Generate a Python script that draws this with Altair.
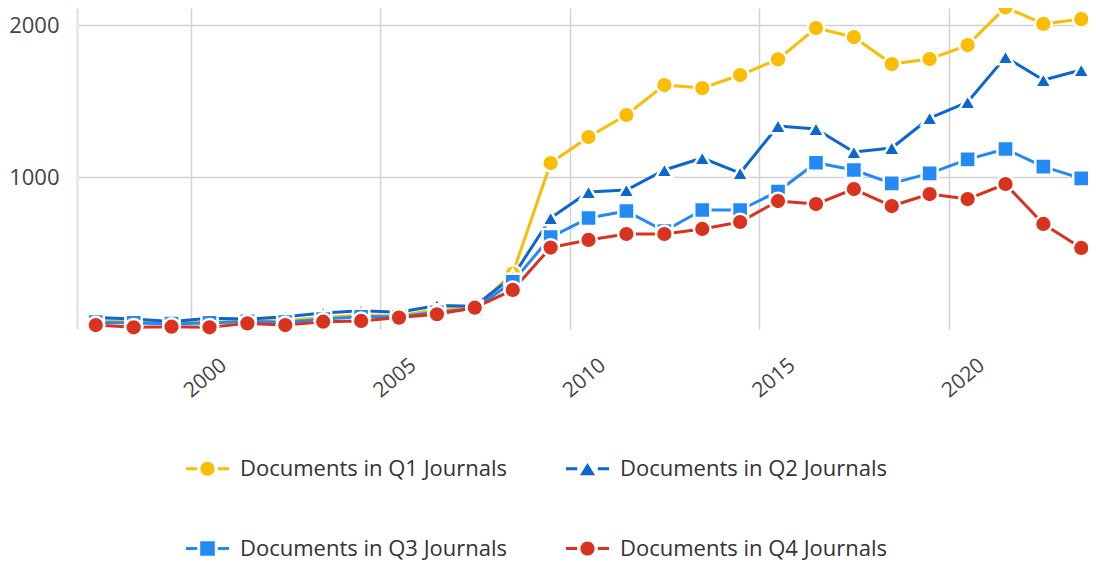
import altair as alt
import pandas as pd

years = list(range(1997, 2024))
q1 = [55, 50, 45, 45, 55, 55, 75, 90, 85, 130, 140, 365, 1092, 1263, 1408, 1605, 1585, 1671,
      1774, 1980, 1921, 1743, 1776, 1868, 2116, 2007, 2039]
q2 = [75, 65, 50, 70, 65, 80, 105, 120, 110, 155, 150, 345, 730, 901, 914, 1046, 1125, 1026,
      1336, 1316, 1164, 1191, 1388, 1493, 1789, 1638, 1704]
q3 = [45, 40, 35, 40, 50, 45, 65, 80, 80, 110, 135, 310, 605, 730, 776, 645, 783, 783,
      905, 1094, 1046, 958, 1024, 1116, 1184, 1068, 991]
q4 = [26, 11, 15, 11, 37, 26, 48, 53, 75, 97, 140, 257, 536, 586, 625, 625, 658, 704,
      842, 822, 921, 809, 888, 855, 954, 691, 533]

series_names = ["Documents in Q1 Journals", "Documents in Q2 Journals",
                "Documents in Q3 Journals", "Documents in Q4 Journals"]
colors = ["#FBBC04", "#0B66CE", "#2389F5", "#D9321F"]
marker_shapes = ["circle", "triangle-up", "square", "circle"]
marker_sizes = [280, 280, 260, 280]

dash = "M-1,-0.07H-0.48V0.07H-1Z M0.48,-0.07H1V0.07H0.48Z "
legend_paths = [
    dash + "M-0.33,0A0.33,0.33 0 1,0 0.33,0A0.33,0.33 0 1,0 -0.33,0Z",
    dash + "M0,-0.27L0.35,0.3L-0.35,0.3Z",
    dash + "M-0.34,-0.34H0.34V0.34H-0.34Z",
    dash + "M-0.33,0A0.33,0.33 0 1,0 0.33,0A0.33,0.33 0 1,0 -0.33,0Z",
]
x_ticks = [2000, 2005, 2010, 2015, 2020]
y_ticks = [1000, 2000]

rows = []
for name, vals in zip(series_names, [q1, q2, q3, q4]):
    for yr, v in zip(years, vals):
        rows.append({"year": yr, "series": name, "value": v})
df = pd.DataFrame(rows)

FONT = "Open Sans"

x_enc = alt.X(
    "date:T",
    title=None,
    scale=alt.Scale(domain=[alt.DateTime(year=1997, month=1, date=1),
                            alt.DateTime(year=2023, month=9, date=4)]),
    axis=alt.Axis(values=[alt.DateTime(year=y, month=1, date=1) for y in x_ticks],
                  format="%Y", grid=True, domain=False, ticks=False, tickSize=0,
                  labelAngle=320, labelAlign="left", labelBaseline="alphabetic",
                  labelPadding=69, labelOverlap=False, labelFontSize=21,
                  labelColor="#444444", labelFont=FONT,
                  gridColor="#d2d2d2", gridWidth=1.5),
)
y_enc = alt.Y(
    "value:Q",
    title=None,
    scale=alt.Scale(domain=[0, 2112], nice=False, zero=True),
    axis=alt.Axis(values=y_ticks, format="d", grid=True, domain=True, domainColor="#dce6f2",
                  domainWidth=2.5, ticks=False, labelPadding=18, labelFontSize=22,
                  labelColor="#444444", labelFont=FONT,
                  gridColor="#d2d2d2", gridWidth=1.5),
)
color_scale = alt.Scale(domain=series_names, range=colors)

base = alt.Chart(df).transform_calculate(date="datetime(datum.year, 6, 1)")

legend_layer = base.mark_point(filled=True, size=1, opacity=1, strokeWidth=0).encode(
    x=x_enc, y=y_enc,
    color=alt.Color("series:N", scale=color_scale, legend=alt.Legend(title=None)),
    shape=alt.Shape("series:N", scale=alt.Scale(domain=series_names, range=legend_paths),
                    legend=alt.Legend(title=None)),
)

lines = base.mark_line(strokeWidth=3, strokeJoin="round").encode(
    x=x_enc, y=y_enc,
    color=alt.Color("series:N", scale=color_scale, legend=None),
)

point_layers = []
for name, shp, sz in zip(series_names, marker_shapes, marker_sizes):
    point_layers.append(
        base.transform_filter(alt.datum.series == name)
        .mark_point(filled=True, shape=shp, size=sz, stroke="white", strokeWidth=2.5, opacity=1)
        .encode(x=x_enc, y=y_enc,
                color=alt.Color("series:N", scale=color_scale, legend=None))
    )

chart = alt.layer(legend_layer, lines, *point_layers).properties(
    width=1011, height=321,
    autosize=alt.AutoSizeParams(type="none"),
    padding={"left": 69, "top": 0, "right": 0, "bottom": 232},
).configure_view(stroke=None).configure_legend(
    orient="none", legendX=109, legendY=439, columns=2, direction="horizontal",
    symbolSize=1849, symbolStrokeWidth=0, symbolOpacity=1,
    labelFont=FONT, labelFontSize=22, labelColor="#333333", labelOffset=11,
    labelLimit=0, rowPadding=47, columnPadding=58, padding=0,
)

chart.save("out.html", embed_options={"renderer": "svg", "actions": False})
